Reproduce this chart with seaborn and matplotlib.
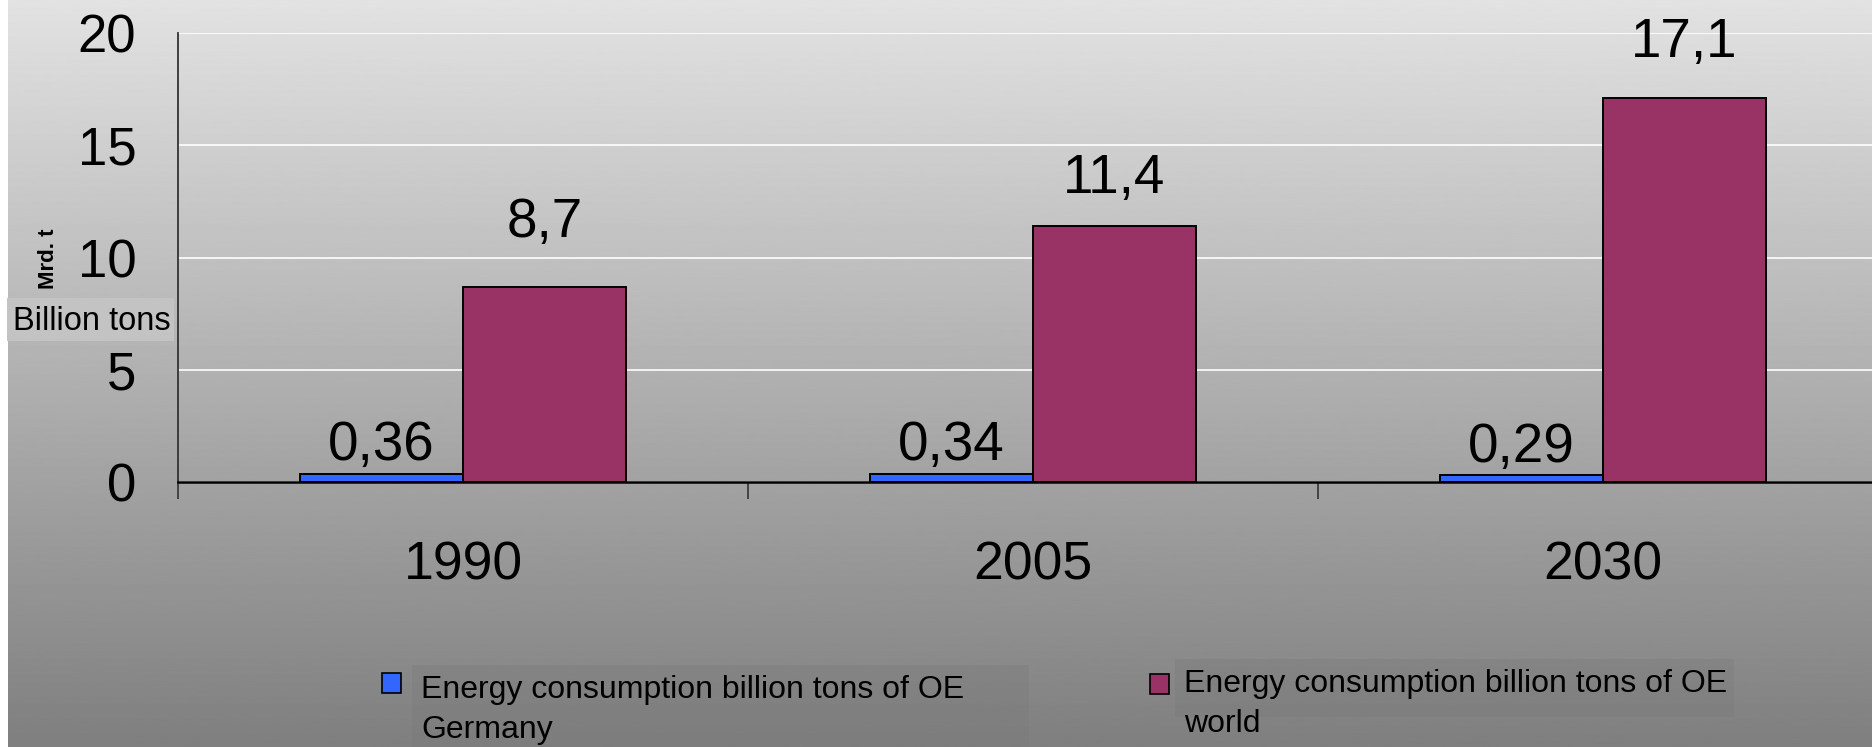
import numpy as np
import pandas as pd
import matplotlib
matplotlib.use("Agg")
import matplotlib.pyplot as plt
from matplotlib.patches import Rectangle
from matplotlib.ticker import FixedLocator
import seaborn as sns

# --- data -------------------------------------------------------------
years = ["1990", "2005", "2030"]
germany = [0.36, 0.34, 0.29]
world = [8.7, 11.4, 17.1]
series_names = [
    "Energy consumption billion tons of OE\nGermany",
    "Energy consumption billion tons of OE\nworld",
]
y_ticks = [0, 5, 10, 15, 20]

# --- styling ----------------------------------------------------------
colors = ["#3366FF", "#993366"]
label_offsets = [[10, 10, 10], [36, 24, 29.5]]   # points above each bar top

sns.set_theme(style="white")
plt.rcParams["font.family"] = ["Liberation Sans", "DejaVu Sans"]

W, H = 1872, 747
fig = plt.figure(figsize=(W / 100, H / 100), dpi=100)
fig.patch.set_facecolor("white")


def fx(px):
    return px / W


def fy(px):
    return 1 - px / H


# vertical grey gradient behind everything (thin white margin on the left)
bg = fig.add_axes([fx(8), 0, 1 - fx(8), 1], zorder=-10)
grad = np.linspace(226, 127, 400).reshape(-1, 1)
bg.imshow(grad, cmap="gray", vmin=0, vmax=255, aspect="auto",
          extent=[0, 1, 0, 1], interpolation="bilinear")
bg.set_axis_off()

df = pd.DataFrame({
    "year": years * 2,
    "value": germany + world,
    "series": [series_names[0]] * 3 + [series_names[1]] * 3,
})

ax = fig.add_axes([fx(178), fy(482), fx(1888 - 178), (482 - 33) / H])
ax.set_facecolor("none")

sns.barplot(data=df, x="year", y="value", hue="series", order=years,
            hue_order=series_names, palette=colors, saturation=1,
            width=0.572, gap=0, edgecolor="black", linewidth=1.4,
            legend=False, ax=ax, zorder=3)

ax.set_xlim(-0.5, 2.5)
ax.set_ylim(0, 20)
ax.set_yticks(y_ticks)
ax.set_xlabel("")
ax.set_ylabel("")

# grid and axes lines
ax.yaxis.grid(True, color="white", linewidth=1.2, zorder=0)
ax.xaxis.grid(False)
ax.set_axisbelow(True)
for s in ["top", "right"]:
    ax.spines[s].set_visible(False)
ax.spines["left"].set_color("#333333")
ax.spines["left"].set_linewidth(1.3)
ax.spines["bottom"].set_color("black")
ax.spines["bottom"].set_linewidth(1.8)
ax.spines["bottom"].set_zorder(5)

ax.tick_params(axis="y", direction="out", length=12, width=1.2,
               color="#333333", labelsize=38, pad=18, labelcolor="black")
ax.xaxis.set_minor_locator(FixedLocator([-0.5, 0.5, 1.5, 2.5]))
ax.tick_params(axis="x", which="minor", direction="out", length=12,
               width=1.2, color="#333333", bottom=True)
ax.tick_params(axis="x", which="major", length=0, labelsize=38.5, pad=42,
               labelcolor="black")

# value labels above every bar
for cont, vals, offs in zip(ax.containers, [germany, world], label_offsets):
    for bar, v, off in zip(cont, vals, offs):
        ax.annotate(f"{v}".replace(".", ","),
                    xy=(bar.get_x() + bar.get_width() / 2, bar.get_height()),
                    xytext=(0, off), textcoords="offset points",
                    ha="center", va="baseline", fontsize=39.5, color="black",
                    zorder=6, annotation_clip=False)

# unit labels on the left
fig.text(fx(48), fy(259), "Mrd. t", rotation=90, ha="center", va="center",
         fontsize=16, fontweight="bold", color="black")
fig.patches.append(Rectangle((fx(7), fy(341)), fx(174 - 7), (341 - 298) / H,
                             transform=fig.transFigure, facecolor="#c3c3c3",
                             edgecolor="none", zorder=1))
fig.text(fx(13), fy(330), "Billion tons", ha="left", va="baseline",
         fontsize=23.5, color="black", zorder=2)

# legend: coloured squares with two-line captions
legend_boxes = [(412, 665, 1029, 747), (1175, 659, 1734, 717)]
legend_squares = [(382, 673), (1150, 674)]
legend_text = [(421, 675), (1184, 669)]
for name, col, (bx0, by0, bx1, by1), (sx, sy), (tx, ty) in zip(
        series_names, colors, legend_boxes, legend_squares, legend_text):
    fig.patches.append(Rectangle((fx(bx0), fy(by1)), fx(bx1 - bx0),
                                 (by1 - by0) / H, transform=fig.transFigure,
                                 facecolor="#7a7a7a", alpha=0.35,
                                 edgecolor="none", zorder=1))
    fig.patches.append(Rectangle((fx(sx), fy(sy + 20)), fx(19), 20 / H,
                                 transform=fig.transFigure, facecolor=col,
                                 edgecolor="black", linewidth=1.2, zorder=2))
    fig.text(fx(tx), fy(ty), name, ha="left", va="top", fontsize=23,
             linespacing=1.45, color="black", zorder=3)

fig.savefig("out.png", dpi=100)
